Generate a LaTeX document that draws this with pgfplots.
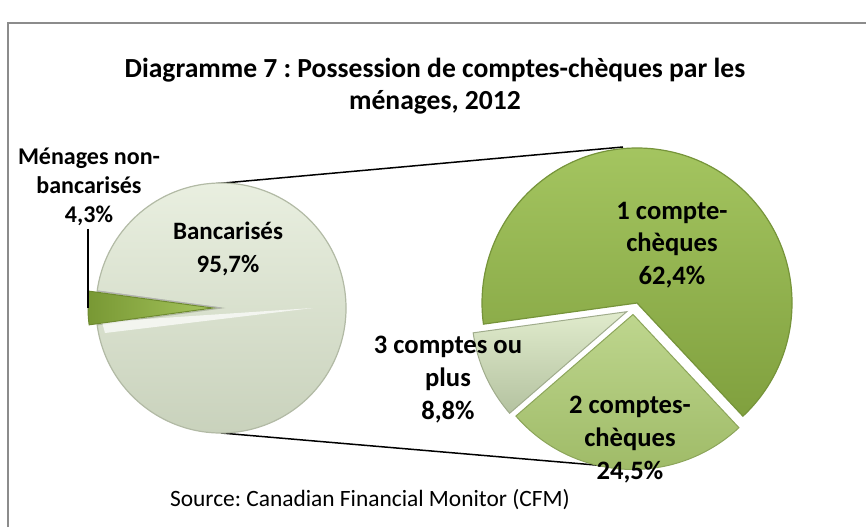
\documentclass[border=0pt]{standalone}
\usepackage{pgfplots}
\pgfplotsset{compat=1.18}
\usepackage{pgfplotstable}
\usepackage{fontspec}
\setmainfont{Carlito}
\frenchspacing
\definecolor{framegray}{HTML}{8C8C8C}
\pgfplotstableread{
label value
Bancarises 95.7
NonBancarises 4.3
}\lefttab
\pgfplotstableread{
label value
Un 62.4
Trois 8.8
Deux 24.5
}\righttab
% pie slice in pixel coordinates: cx, cy (from top), radius px, start, end, style
\newcommand\pieslice[6]{\path[#6] (axis cs:#1,{527-(#2)}) -- ++(#4:#3*0.5pt) arc[start angle=#4, end angle=#5, radius=#3*0.5pt] -- cycle;}
\begin{document}
\begin{tikzpicture}
\pgfplotstablegetelem{0}{value}\of\lefttab \let\vBanc\pgfplotsretval
\pgfplotstablegetelem{1}{value}\of\lefttab \let\vNon\pgfplotsretval
\pgfplotstablegetelem{0}{value}\of\righttab \let\vUn\pgfplotsretval
\pgfplotstablegetelem{1}{value}\of\righttab \let\vTrois\pgfplotsretval
\pgfplotstablegetelem{2}{value}\of\righttab \let\vDeux\pgfplotsretval
\pgfmathsetmacro\sA{180-\vNon*3.6/2}
\pgfmathsetmacro\sB{180+\vNon*3.6/2}
\pgfmathsetmacro\sC{\sA+360}
\pgfmathsetmacro\aA{-46.9}
\pgfmathsetmacro\aB{\aA+\vUn/\vBanc*360}
\pgfmathsetmacro\aC{\aB+\vTrois/\vBanc*360}
\pgfmathsetmacro\aD{\aC+\vDeux/\vBanc*360}
\begin{axis}[name=ax, scale only axis, width=433pt, height=263.5pt,
  xmin=0, xmax=866, ymin=0, ymax=527, hide axis, clip=false]
% frame
\draw[framegray, line width=1pt] (axis cs:8,0) -- (axis cs:8,{527-23}) -- (axis cs:866,{527-23});
% connector lines
\draw[black, line width=0.75pt] (axis cs:213,{527-184}) -- (axis cs:623,{527-147});
\draw[black, line width=0.75pt] (axis cs:221,{527-433}) -- (axis cs:607,{527-466});
% left pie
\pieslice{221}{308}{125}{\sB}{\sC}{top color={rgb,255:red,234;green,240;blue,225}, bottom color={rgb,255:red,200;green,209;blue,187}, draw={rgb,255:red,178;green,186;blue,165}, line width=0.6pt}
\fill[white, opacity=0.7] (axis cs:313,{527-308}) -- (axis cs:102,{527-322}) -- (axis cs:105,{527-333}) -- cycle;
\draw[gray!60, line width=0.5pt] (axis cs:221,{527-308}) -- (axis cs:98,{527-291});
\pieslice{213}{308}{125}{\sA}{\sB}{left color={rgb,255:red,120;green,152;blue,52}, right color={rgb,255:red,165;green,196;blue,92}, draw={rgb,255:red,110;green,138;blue,48}, line width=0.5pt}
% right pie
\pieslice{637}{303}{155}{\aA}{\aB}{top color={rgb,255:red,166;green,199;blue,98}, bottom color={rgb,255:red,128;green,160;blue,62}, draw={rgb,255:red,118;green,148;blue,58}, line width=0.6pt}
\pieslice{626.7}{311.7}{155}{\aB}{\aC}{top color={rgb,255:red,224;green,235;blue,204}, bottom color={rgb,255:red,180;green,194;blue,160}, draw={rgb,255:red,160;green,172;blue,140}, line width=0.5pt}
\pieslice{633}{314.5}{155}{\aC}{\aD}{top color={rgb,255:red,190;green,214;blue,142}, bottom color={rgb,255:red,158;green,186;blue,102}, draw={rgb,255:red,140;green,165;blue,90}, line width=0.5pt}
% title
\node[align=center, font=\fontsize{13.8}{16}\selectfont\bfseries] at (axis cs:435,{527-86}) {Diagramme 7 : Possession de comptes-chèques par les\\ménages, 2012};
% labels
\node[align=center, font=\fontsize{12}{14.5}\selectfont\bfseries] at (axis cs:89,{527-187}) {Ménages non-\\bancarisés\\4,3\%};
\draw[black, line width=0.6pt] (axis cs:88,{527-229}) -- (axis cs:88,{527-308});
\node[align=center, font=\fontsize{12.5}{16.5}\selectfont\bfseries] at (axis cs:228,{527-248.5}) {Bancarisés\\95,7\%};
\node[align=center, font=\fontsize{13.3}{16.3}\selectfont\bfseries] at (axis cs:672,{527-245}) {1 compte-\\chèques\\62,4\%};
\node[align=center, font=\fontsize{13.3}{16.5}\selectfont\bfseries] at (axis cs:630,{527-440}) {2 comptes-\\chèques\\24,5\%};
\node[align=center, font=\fontsize{13.3}{16.5}\selectfont\bfseries] at (axis cs:448,{527-380}) {3 comptes ou\\plus\\8,8\%};
% source
\node[font=\fontsize{11.7}{14}\selectfont] at (axis cs:370,{527-500}) {Source: Canadian Financial Monitor (CFM)};
\end{axis}
\pgfresetboundingbox
\useasboundingbox (ax.south west) rectangle (ax.north east);
\end{tikzpicture}
\end{document}
